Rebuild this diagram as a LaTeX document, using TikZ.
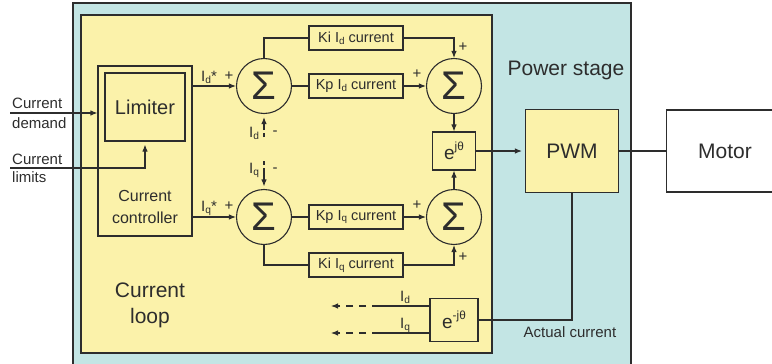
\documentclass[tikz,border=0pt]{standalone}
\usepackage{fontspec}
\setmainfont{Liberation Sans}
\usepackage{graphicx}
\usetikzlibrary{arrows.meta}
\definecolor{ylw}{RGB}{251,242,170}
\definecolor{cyn}{RGB}{195,229,228}
\definecolor{ln}{RGB}{45,45,45}
\newcommand\sbs[1]{\raisebox{-0.12em}{\scalebox{0.68}{#1}}}
\newcommand\sps[1]{\raisebox{0.45em}{\scalebox{0.62}{#1}}}
\newcommand\fsz[1]{\fontsize{#1}{#1}\selectfont}
\begin{document}
\begin{tikzpicture}[x=1pt,y=-1pt,
  line/.style={draw=ln,line width=1.1pt},
  arr/.style={line,-{Latex[length=7pt,width=5.5pt]}},
  blk/.style={line,fill=ylw,inner sep=0pt,text=ln},
  sumc/.style={circle,line,fill=ylw,minimum size=55pt,inner sep=0pt,text=ln,font=\fsz{40}},
  gain/.style={blk,minimum width=94pt,minimum height=24pt,font=\fsz{14.5}},
  txt/.style={inner sep=0pt,text=ln},
  dsh/.style={line,dash pattern=on 7pt off 6pt,dash phase=7pt}]
\clip (0,0) rectangle (772,364);
\path[line,fill=cyn] (73,3) rectangle (631,380);
\path[line,fill=ylw] (81,15) rectangle (492,353);

% controller
\node[blk,minimum width=94pt,minimum height=170pt] (ctrl) at (145,151) {};
\node[blk,minimum width=80pt,minimum height=68pt,font=\fsz{20}] (lim) at (145,107) {Limiter};
\node[txt,align=center,font=\fontsize{16}{22}\selectfont] (ctrltxt) at (145,207) {Current\\controller};
\node[txt,align=center,font=\fontsize{21}{26}\selectfont] (looptxt) at (150,305) {Current\\loop};

% sums and gains
\node[sumc] (s1d) at (264,86) {Σ};
\node[sumc] (s2d) at (454,86) {Σ};
\node[sumc] (s1q) at (264,217) {Σ};
\node[sumc] (s2q) at (454,217) {Σ};
\node[gain] (kid) at (356,38) {Ki I\sbs{d} current};
\node[gain] (kpd) at (356,86) {Kp I\sbs{d} current};
\node[gain] (kpq) at (356,217) {Kp I\sbs{q} current};
\node[gain] (kiq) at (356,265) {Ki I\sbs{q} current};
\node[blk,minimum width=43pt,minimum height=38pt,font=\fsz{19}] (ejt) at (454,151) {e\sps{jθ}};
\node[blk,minimum width=48pt,minimum height=43pt,font=\fsz{19}] (emjt) at (454,320) {e\sps{-jθ}};
\node[blk,minimum width=93pt,minimum height=83pt,font=\fsz{21}] (pwm) at (572,151) {PWM};
\node[line,fill=white,minimum width=140pt,minimum height=82pt,inner sep=0pt,anchor=west] (motor) at (666,151) {};
\node[txt,font=\fsz{21}] (motortxt) at (725,151) {Motor};
\node[txt,font=\fsz{21}] (pstxt) at (566,70) {Power stage};
\node[txt,font=\fsz{15}] (actxt) at (570,332) {Actual current};

% inputs
\coordinate (cdin) at (10,113);
\coordinate (clin) at (10,168);
\draw[arr] (cdin) -- (cdin -| ctrl.west);
\draw[arr,shorten >=3pt] (clin) -| (lim.south);
\node[txt,font=\fsz{15},anchor=west] (t1) at (12,103) {Current};
\node[txt,font=\fsz{15},anchor=west] (t2) at (12,123) {demand};
\node[txt,font=\fsz{15},anchor=west] (t3) at (12,159) {Current};
\node[txt,font=\fsz{15},anchor=west] (t4) at (12,177) {limits};

% d channel
\draw[arr] (ctrl.east |- s1d) -- (s1d.west);
\node[txt,font=\fsz{15}] (lidst) at (209,77) {I\sbs{d}*};
\node[txt,font=\fsz{15}] (p1) at (229,76) {+};
\draw[line] (s1d.east) -- (kpd.west);
\draw[arr] (kpd.east) -- (s2d.west);
\draw[line] (s1d.north) |- (kid.west);
\draw[arr] (kid.east) -| (s2d.north);
\node[txt,font=\fsz{15}] (p2) at (417,74) {+};
\node[txt,font=\fsz{15}] (p3) at (463,47) {+};

% q channel
\draw[arr] (ctrl.east |- s1q) -- (s1q.west);
\node[txt,font=\fsz{15}] (liqst) at (209,208) {I\sbs{q}*};
\node[txt,font=\fsz{15}] (p4) at (229,206) {+};
\draw[line] (s1q.east) -- (kpq.west);
\draw[arr] (kpq.east) -- (s2q.west);
\draw[line] (s1q.south) |- (kiq.west);
\draw[arr] (kiq.east) -| (s2q.south);
\node[txt,font=\fsz{15}] (p5) at (417,205) {+};
\node[txt,font=\fsz{15}] (p6) at (463,257) {+};

% feedbacks into first sums
\coordinate (fdA) at (264,137);
\coordinate (fdB) at (264,133);
\coordinate (fdC) at (264,130);
\draw[line] (fdA) -- (fdB);
\draw[arr,shorten >=3pt] (fdC) -- (s1d.south);
\node[txt,font=\fsz{15}] (lfd) at (254,133) {I\sbs{d}};
\node[txt,font=\fsz{15}] (mfd) at (275,133) {-};
\coordinate (fqA) at (264,161);
\coordinate (fqB) at (264,165);
\coordinate (fqC) at (264,168);
\draw[line] (fqA) -- (fqB);
\draw[arr,shorten >=2.5pt] (fqC) -- (s1q.north);
\node[txt,font=\fsz{15}] (lfq) at (254,170) {I\sbs{q}};
\node[txt,font=\fsz{15}] (mfq) at (275,170) {-};

% output path
\draw[arr] (s2d.south) -- (ejt.north);
\draw[arr] (s2q.north) -- (ejt.south);
\draw[arr,shorten >=3pt] (ejt.east) -- (pwm.west);
\draw[line] (pwm.east) -- (motor.west);
\draw[line] (pwm.south) |- (emjt.east);

% actual current outputs
\coordinate (ids) at (372,306);
\coordinate (ido) at (331,306);
\coordinate (iqs) at (372,333);
\coordinate (iqo) at (331,333);
\draw[line] (emjt.west |- ids) -- (ids);
\draw[dsh,-{Latex[length=7pt,width=5.5pt]}] (ids) -- (ido);
\draw[line] (emjt.west |- iqs) -- (iqs);
\draw[dsh,-{Latex[length=7pt,width=5.5pt]}] (iqs) -- (iqo);
\node[txt,font=\fsz{15}] (lido) at (405,297) {I\sbs{d}};
\node[txt,font=\fsz{15}] (liqo) at (405,325) {I\sbs{q}};
\end{tikzpicture}
\end{document}
